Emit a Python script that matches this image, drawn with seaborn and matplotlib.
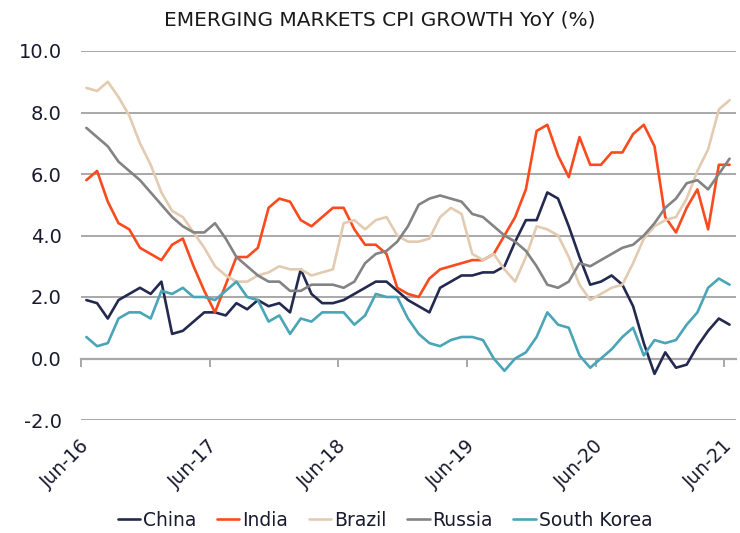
import numpy as np
import pandas as pd
import matplotlib
matplotlib.use("Agg")
import matplotlib.pyplot as plt
import matplotlib.transforms as mtransforms
import seaborn as sns

sns.set_style("white")
plt.rcParams["font.family"] = ["DejaVu Sans"]

# Monthly CPI YoY (%), Jun-16 .. Jun-21 (61 months)
china = [1.9, 1.8, 1.3, 1.9, 2.1, 2.3, 2.1, 2.5, 0.8, 0.9, 1.2,
         1.5, 1.5, 1.4, 1.8, 1.6, 1.9, 1.7, 1.8, 1.5, 2.9,
         2.1, 1.8, 1.8, 1.9, 2.1, 2.3, 2.5, 2.5, 2.2, 1.9,
         1.7, 1.5, 2.3, 2.5, 2.7, 2.7, 2.8, 2.8, 3.0, 3.8,
         4.5, 4.5, 5.4, 5.2, 4.3, 3.3, 2.4, 2.5, 2.7, 2.4,
         1.7, 0.5, -0.5, 0.2, -0.3, -0.2, 0.4, 0.9, 1.3, 1.1]
india = [5.8, 6.1, 5.1, 4.4, 4.2, 3.6, 3.4, 3.2, 3.7, 3.9, 3.0,
         2.2, 1.5, 2.4, 3.3, 3.3, 3.6, 4.9, 5.2, 5.1, 4.5,
         4.3, 4.6, 4.9, 4.9, 4.2, 3.7, 3.7, 3.4, 2.3, 2.1,
         2.0, 2.6, 2.9, 3.0, 3.1, 3.2, 3.2, 3.4, 4.0, 4.6,
         5.5, 7.4, 7.6, 6.6, 5.9, 7.2, 6.3, 6.3, 6.7, 6.7,
         7.3, 7.6, 6.9, 4.6, 4.1, 4.9, 5.5, 4.2, 6.3, 6.3]
brazil = [8.8, 8.7, 9.0, 8.5, 7.9, 7.0, 6.3, 5.4, 4.8, 4.6, 4.1,
          3.6, 3.0, 2.7, 2.5, 2.5, 2.7, 2.8, 3.0, 2.9, 2.9,
          2.7, 2.8, 2.9, 4.4, 4.5, 4.2, 4.5, 4.6, 4.0, 3.8,
          3.8, 3.9, 4.6, 4.9, 4.7, 3.4, 3.2, 3.4, 2.9, 2.5,
          3.3, 4.3, 4.2, 4.0, 3.3, 2.4, 1.9, 2.1, 2.3, 2.4,
          3.1, 3.9, 4.3, 4.5, 4.6, 5.2, 6.1, 6.8, 8.1, 8.4]
russia = [7.5, 7.2, 6.9, 6.4, 6.1, 5.8, 5.4, 5.0, 4.6, 4.3, 4.1,
          4.1, 4.4, 3.9, 3.3, 3.0, 2.7, 2.5, 2.5, 2.2, 2.2,
          2.4, 2.4, 2.4, 2.3, 2.5, 3.1, 3.4, 3.5, 3.8, 4.3,
          5.0, 5.2, 5.3, 5.2, 5.1, 4.7, 4.6, 4.3, 4.0, 3.8,
          3.5, 3.0, 2.4, 2.3, 2.5, 3.1, 3.0, 3.2, 3.4, 3.6,
          3.7, 4.0, 4.4, 4.9, 5.2, 5.7, 5.8, 5.5, 6.0, 6.5]
south_korea = [0.7, 0.4, 0.5, 1.3, 1.5, 1.5, 1.3, 2.2, 2.1, 2.3, 2.0,
               2.0, 1.9, 2.2, 2.5, 2.0, 1.9, 1.2, 1.4, 0.8, 1.3,
               1.2, 1.5, 1.5, 1.5, 1.1, 1.4, 2.1, 2.0, 2.0, 1.3,
               0.8, 0.5, 0.4, 0.6, 0.7, 0.7, 0.6, 0.0, -0.4, 0.0,
               0.2, 0.7, 1.5, 1.1, 1.0, 0.1, -0.3, 0.0, 0.3, 0.7,
               1.0, 0.1, 0.6, 0.5, 0.6, 1.1, 1.5, 2.3, 2.6, 2.4]

tick_labels = ["Jun-16", "Jun-17", "Jun-18", "Jun-19", "Jun-20", "Jun-21"]
y_ticks = [-2.0, 0.0, 2.0, 4.0, 6.0, 8.0, 10.0]

colors = {
    "China": "#242a4f",
    "India": "#fb4a1e",
    "Brazil": "#e3cbb2",
    "Russia": "#838383",
    "South Korea": "#4aa5b7",
}

series = {"China": china, "India": india, "Brazil": brazil,
          "Russia": russia, "South Korea": south_korea}
months = np.arange(len(china))
df = pd.concat(
    [pd.DataFrame({"month": months, "value": v, "country": k}) for k, v in series.items()],
    ignore_index=True,
)

fig = plt.figure(figsize=(7.4, 5.33), dpi=100)
ax = fig.add_axes([81 / 740, 1 - 420 / 533, (736 - 81) / 740, (420 - 51) / 533])

sns.lineplot(data=df, x="month", y="value", hue="country", palette=colors,
             linewidth=1.9, ax=ax)

grid_col = "#a8a8a8"
ymin, ymax = -2.0, 10.0
ax.set_ylim(ymin, ymax)
ax.set_xlim(-0.5, len(china) - 0.4)
ax.set_yticks(y_ticks)
ax.set_yticklabels([f"{t:.1f}" for t in y_ticks])
ax.yaxis.grid(True, color=grid_col, linewidth=1.4)
ax.xaxis.grid(False)
for s in ax.spines.values():
    s.set_visible(False)

tick_pos = [-0.5 + 12 * i for i in range(len(tick_labels))]
ax.set_xticks(tick_pos)
ax.set_xticklabels(tick_labels, rotation=45, ha="right", va="center",
                   rotation_mode="anchor")
ax.tick_params(axis="x", length=0, pad=17, labelsize=13.5, labelcolor="#1a1a2e")
ax.tick_params(axis="y", length=0, pad=14, labelsize=14, labelcolor="#1a1a2e")
shift = mtransforms.ScaledTranslation(5 / 100, 0, fig.dpi_scale_trans)
for lbl in ax.get_xticklabels():
    lbl.set_transform(lbl.get_transform() + shift)
ax.set_xlabel("")
ax.set_ylabel("")

# zero axis line with tick marks
zero_loc = (0 - ymin) / (ymax - ymin)
sec = ax.secondary_xaxis(zero_loc)
sec.set_xticks(tick_pos)
sec.tick_params(axis="x", direction="out", length=6, width=1.4, color=grid_col,
                labelbottom=False)
sec.spines["bottom"].set_color(grid_col)
sec.spines["bottom"].set_linewidth(1.6)

handles, labels = ax.get_legend_handles_labels()
ax.get_legend().remove()
fig.legend(handles, labels, loc="center", bbox_to_anchor=(385 / 740, 1 - 520 / 533),
           ncol=5, frameon=False, fontsize=13.5, handlelength=1.2,
           handletextpad=0.15, columnspacing=1.1, labelcolor="#1a1a2e")

fig.text(380 / 740, 1 - 20 / 533, "EMERGING MARKETS CPI GROWTH YoY (%)",
         ha="center", va="center", fontsize=14.5, color="#1a1a1a")

fig.savefig("out.png", dpi=100)
